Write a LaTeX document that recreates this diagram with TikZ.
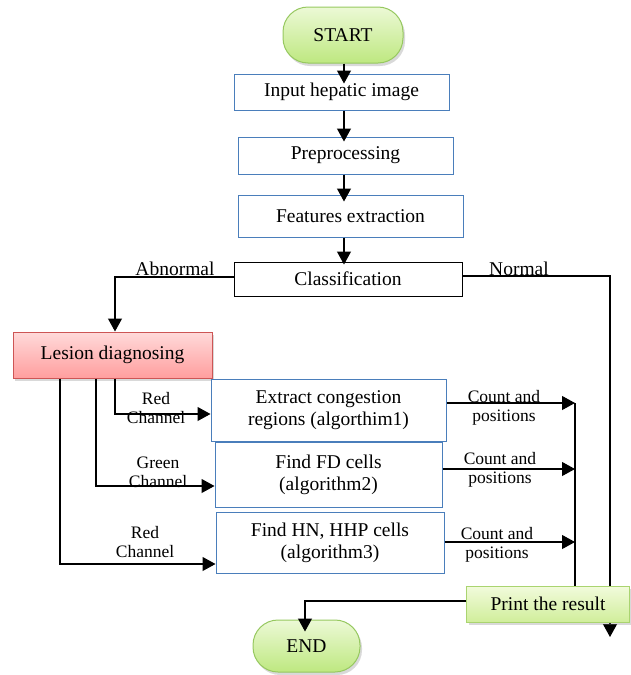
\documentclass[tikz,border=0pt]{standalone}
\usepackage{fontspec}
\setmainfont{Liberation Serif}
\usetikzlibrary{arrows.meta,shadows,backgrounds}
\definecolor{boxblue}{RGB}{74,126,187}
\definecolor{termtop}{RGB}{236,249,214}
\definecolor{termbot}{RGB}{190,232,128}
\definecolor{termbd}{RGB}{150,200,95}
\definecolor{lestop}{RGB}{255,218,218}
\definecolor{lesbot}{RGB}{255,158,158}
\definecolor{lesbd}{RGB}{205,85,85}
\definecolor{prtop}{RGB}{242,251,220}
\definecolor{prbot}{RGB}{208,238,155}
\definecolor{prbd}{RGB}{170,212,112}
\begin{document}
\begin{tikzpicture}[x=1pt,y=-1pt,
  mainfont/.style={font=\fontsize{19.5}{22}\selectfont},
  smallfont/.style={font=\fontsize{17.5}{19}\selectfont},
  procbox/.style={draw=boxblue,line width=1pt,fill=white,inner sep=0pt,align=center,mainfont},
  termbox/.style={draw=termbd,line width=1pt,top color=termtop,bottom color=termbot,rounded corners=25pt,inner sep=0pt,mainfont,
     drop shadow={shadow xshift=2pt,shadow yshift=-3pt,opacity=0.3}},
  lbl/.style={smallfont,align=center,inner sep=0pt},
  toplbl/.style={mainfont,inner sep=0pt},
  arr/.style={line width=1.1pt,-{Triangle[length=13pt,width=14pt]}},
  ln/.style={line width=1.1pt}]
\useasboundingbox (0,0) rectangle (630,675);

\node[termbox,minimum width=120pt,minimum height=56pt] (start) at (343,35) {START};
\node[procbox,minimum width=215pt,minimum height=36pt] (input) at (341.5,92) {Input hepatic image};
\node[procbox,minimum width=215pt,minimum height=37pt] (prep) at (345.5,155.5) {Preprocessing};
\node[procbox,minimum width=225pt,minimum height=42pt] (feat) at (350.5,216) {Features extraction};
\node[procbox,draw=black,minimum width=228pt,minimum height=34pt] (class) at (348,279) {Classification};

\node[draw=lesbd,line width=1pt,top color=lestop,bottom color=lesbot,inner sep=0pt,mainfont,
  minimum width=199pt,minimum height=46pt,
  drop shadow={shadow xshift=2pt,shadow yshift=-3pt,opacity=0.3}] (lesion) at (112.5,355) {Lesion diagnosing};

\node[procbox,minimum width=235pt,minimum height=62pt] (extract) at (328.5,410) {Extract congestion\\regions (algorthim1)};
\node[procbox,minimum width=227pt,minimum height=65pt] (fd) at (328.5,474.5) {Find FD cells\\(algorithm2)};
\node[procbox,minimum width=228pt,minimum height=61pt] (hn) at (330,542.5) {Find HN, HHP cells\\(algorithm3)};

\node[draw=prbd,line width=1pt,top color=prtop,bottom color=prbot,inner sep=0pt,mainfont,
  minimum width=163pt,minimum height=36pt,
  drop shadow={shadow xshift=2pt,shadow yshift=-3pt,opacity=0.3}] (print) at (548,604) {Print the result};

\node[termbox,minimum width=107pt,minimum height=52pt] (end) at (306.5,646) {END};

\coordinate (nend) at (610,637);
\coordinate (c1) at (575,403);
\coordinate (c2) at (575,469);
\coordinate (c3) at (575,542);

% labels
\node[toplbl] (labn) at (175,269) {Abnormal};
\node[toplbl] (labnor) at (519,269) {Normal};
\node[lbl] (ch1) at (156,408) {Red\\Channel};
\node[lbl] (ch2) at (158,472) {Green\\Channel};
\node[lbl] (ch3) at (145,542) {Red\\Channel};
\node[lbl] (cp1) at (504,408) {Count and\\positions};
\node[lbl] (cp2) at (500,470) {Count and\\positions};
\node[lbl] (cp3) at (497,545) {Count and\\positions};

\begin{pgfonlayer}{background}
\draw[arr] ([yshift=3pt]class.east) -| (nend);
\end{pgfonlayer}
\draw[arr,shorten >=-10pt] ([xshift=1pt]start.south) -- ([xshift=1pt]start.south |- input.north);
\draw[arr,shorten >=-5pt] ([xshift=2.5pt]input.south) -- ([xshift=2.5pt]input.south |- prep.north);
\draw[arr,shorten >=-7pt] ([xshift=-1.5pt]prep.south) -- ([xshift=-1.5pt]prep.south |- feat.north);
\draw[arr,shorten >=-3pt] ([xshift=-6.5pt]feat.south) -- ([xshift=-6.5pt]feat.south |- class.north);
\draw[arr] ([yshift=2pt]class.west) -| ([xshift=2.5pt]lesion.north);
\draw[arr] ([xshift=2.5pt]lesion.south) |- ([yshift=-4pt]extract.west);
\draw[arr] ([xshift=-16.5pt]lesion.south) |- ([yshift=-11.5pt]fd.west);
\draw[arr] ([xshift=-52.5pt]lesion.south) |- ([yshift=-21.5pt]hn.west);
\draw[arr] (extract.east |- c1) -- (c1);
\draw[arr] (fd.east |- c2) -- (c2);
\draw[arr] (hn.east |- c3) -- (c3);
\draw[ln] (c1) -- (c1 |- print.north);
\draw[arr,shorten >=-12pt] ([yshift=3pt]print.west) -| ([xshift=-1.5pt]end.north);
\end{tikzpicture}
\end{document}
